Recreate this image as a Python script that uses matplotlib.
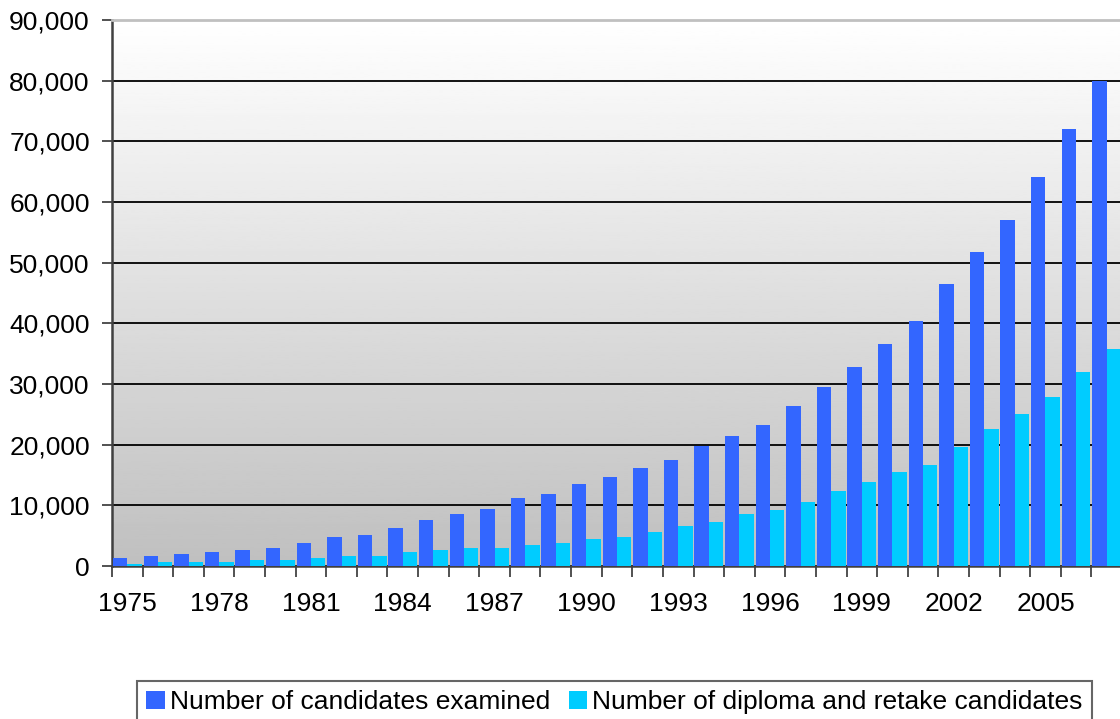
import numpy as np
import matplotlib
matplotlib.use("Agg")
import matplotlib.pyplot as plt
from matplotlib.ticker import FuncFormatter

plt.rcParams['font.family'] = ['Liberation Sans', 'DejaVu Sans']

years = list(range(1975, 2008))
examined = [1300, 1600, 1900, 2300, 2600, 3000, 3800, 4800, 5100, 6200,
            7600, 8600, 9400, 11200, 11900, 13500, 14700, 16100, 17500, 19800,
            21400, 23300, 26300, 29500, 32800, 36600, 40400, 46500, 51800, 57100,
            64100, 72100, 79900]
diploma = [300, 600, 600, 700, 1000, 1000, 1300, 1600, 1600, 2300,
           2600, 3000, 3000, 3400, 3800, 4400, 4800, 5600, 6600, 7300,
           8500, 9200, 10600, 12300, 13900, 15500, 16600, 19600, 22600, 25100,
           27900, 32000, 35800]
label_years = [1975, 1978, 1981, 1984, 1987, 1990, 1993, 1996, 1999, 2002, 2005]

fig = plt.figure(figsize=(11.2, 7.19), dpi=100)
ax = fig.add_axes([0.1, 1 - 566 / 719, 1010 / 1120, 546 / 719])

x = np.arange(len(years))
w = 0.47
ax.bar(x - w / 2, examined, width=w, color='#3366FF', label='Number of candidates examined', zorder=3)
ax.bar(x + w / 2, diploma, width=w, color='#00CCFF', label='Number of diploma and retake candidates', zorder=3)

ax.set_xlim(-0.5, len(years) - 0.5)
ax.set_ylim(0, 90000)

# gradient background, white at top to gray at bottom
grad = np.linspace(0.75, 1.0, 256).reshape(-1, 1)
ax.imshow(grad, cmap='gray', vmin=0, vmax=1, aspect='auto', origin='lower',
          extent=[-0.5, len(years) - 0.5, 0, 90000], zorder=0)

ax.set_yticks(np.arange(0, 90001, 10000))
ax.yaxis.set_major_formatter(FuncFormatter(lambda v, p: f"{int(v):,}"))
ax.yaxis.grid(True, color='black', linewidth=1.3, zorder=1)

# ticks at category boundaries, labels every third year at centres
ax.set_xticks(np.arange(-0.5, len(years) - 0.5, 1), minor=False)
ax.set_xticklabels([])
ax.set_xticks([years.index(y) for y in label_years], minor=True)
ax.set_xticklabels([str(y) for y in label_years], minor=True)
ax.tick_params(axis='x', which='minor', length=0, pad=19, labelsize=19)
ax.tick_params(axis='x', which='major', length=8, width=1.2, color='#333333', direction='out')
ax.tick_params(axis='y', length=7, width=1.2, color='#333333', pad=9, labelsize=19)

for s in ['left', 'bottom']:
    ax.spines[s].set_color('#404040')
    ax.spines[s].set_linewidth(1.8)
ax.spines['top'].set_color('#C0C0C0')
ax.spines['top'].set_linewidth(2)
ax.spines['right'].set_visible(False)

leg = fig.legend(loc='upper left', bbox_to_anchor=(137 / 1120, 1 - 681 / 719), ncol=2,
                 frameon=True, fancybox=False, edgecolor='#404040', fontsize=19,
                 handlelength=0.7, handleheight=0.7, handletextpad=0.2,
                 columnspacing=0.7, borderpad=0.35, borderaxespad=0)
leg.get_frame().set_linewidth(1.5)

fig.savefig('out.png', dpi=100)
